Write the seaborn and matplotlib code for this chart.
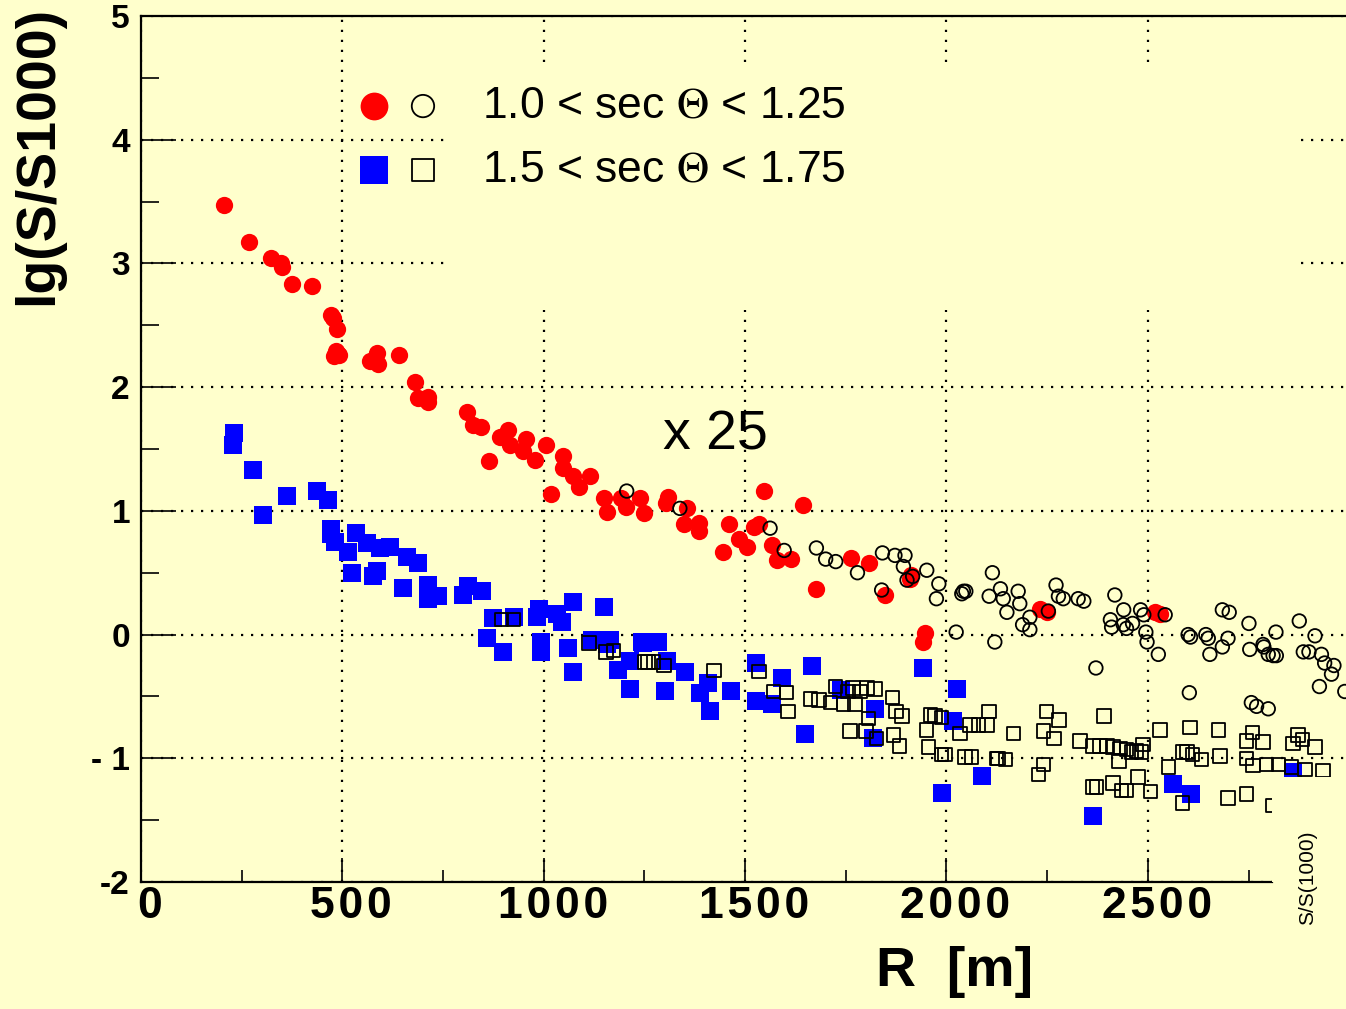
import numpy as np
import pandas as pd
import matplotlib
matplotlib.use("Agg")
import matplotlib.pyplot as plt
from matplotlib.patches import Rectangle
from matplotlib.transforms import ScaledTranslation
from matplotlib.ticker import MultipleLocator, FixedLocator
import seaborn as sns

BG = "#FFFFCC"
sns.set_style("ticks")
plt.rcParams["font.family"] = ["Liberation Sans", "DejaVu Sans"]
plt.rcParams["mathtext.fontset"] = "stix"
for key in ["text.color", "axes.labelcolor", "xtick.color", "ytick.color", "axes.edgecolor"]:
    plt.rcParams[key] = "black"

# 1.0 < sec(theta) < 1.25, scaled by 25 : filled = selected, open = others
r_vert_fill = [207, 268, 324, 348, 349, 376, 425, 471, 477, 486, 484, 492, 489, 480,
               568, 585, 589, 641, 680, 689, 713, 713, 810, 825, 843, 864, 891, 912,
               916, 957, 949, 978, 1005, 1017, 1049, 1049, 1073, 1088, 1116, 1149,
               1158, 1193, 1204, 1239, 1249, 1309, 1303, 1355, 1348, 1386, 1386, 1444,
               1461, 1485, 1505, 1522, 1535, 1547, 1566, 1578, 1615, 1643, 1677, 1763,
               1808, 1847, 1913, 1909, 1946, 1942, 2232, 2249, 2517, 2530]
lg_vert_fill = [3.47, 3.17, 3.04, 3.00, 2.97, 2.83, 2.82, 2.58, 2.56, 2.47, 2.29, 2.26, 2.27, 2.25,
                2.21, 2.28, 2.19, 2.26, 2.04, 1.91, 1.92, 1.88, 1.80, 1.69, 1.68, 1.40, 1.60, 1.65,
                1.53, 1.58, 1.48, 1.41, 1.53, 1.14, 1.44, 1.35, 1.28, 1.19, 1.28, 1.10,
                0.99, 1.10, 1.03, 1.10, 0.98, 1.11, 1.06, 1.02, 0.89, 0.90, 0.84, 0.67,
                0.89, 0.77, 0.71, 0.87, 0.89, 1.16, 0.72, 0.60, 0.61, 1.05, 0.37, 0.62,
                0.58, 0.32, 0.48, 0.45, 0.01, -0.06, 0.21, 0.18, 0.18, 0.17]

r_vert_open = [1206, 1338, 1562, 1597, 1677, 1700, 1725, 1779, 1841, 1872, 1897, 1893, 1902,
               1916, 1951, 1981, 1975, 1839, 2024, 2042, 2048, 2038, 2114, 2106, 2134, 2141,
               2178, 2182, 2150, 2207, 2189, 2207, 2120, 2272, 2278, 2290, 2253, 2327, 2341,
               2418, 2440, 2407, 2410, 2439, 2447, 2462, 2482, 2490, 2495, 2498, 2526, 2371,
               2543, 2600, 2606, 2644, 2650, 2654, 2685, 2699, 2685, 2702, 2751, 2753, 2788,
               2799, 2811, 2818, 2603, 2757, 2770, 2799, 2876, 2915, 2786, 2819, 2886, 2900,
               2931, 2939, 2956, 2962, 2926, 2989]
lg_vert_open = [1.16, 1.02, 0.86, 0.68, 0.70, 0.61, 0.59, 0.50, 0.66, 0.64, 0.64, 0.55, 0.44,
                0.47, 0.52, 0.41, 0.29, 0.36, 0.02, 0.35, 0.35, 0.33, 0.50, 0.31, 0.37, 0.29,
                0.35, 0.25, 0.18, 0.14, 0.08, 0.04, -0.06, 0.40, 0.31, 0.29, 0.19, 0.29, 0.27,
                0.32, 0.20, 0.12, 0.06, 0.08, 0.05, 0.09, 0.20, 0.16, 0.02, -0.06, -0.16, -0.27,
                0.16, 0.00, -0.02, 0.00, -0.03, -0.16, -0.10, -0.03, 0.20, 0.18, 0.09, -0.12, -0.10,
                -0.16, -0.17, 0.02, -0.47, -0.55, -0.58, -0.60, 0.11, -0.01, -0.08, -0.17, -0.14, -0.14,
                -0.16, -0.23, -0.32, -0.25, -0.42, -0.46]

# 1.5 < sec(theta) < 1.75
r_incl_fill = [231, 229, 277, 362, 436, 465, 302, 473, 471, 482, 535, 515, 560, 594, 618, 660,
               689, 525, 575, 585, 651, 713, 738, 713, 800, 813, 846, 875, 925, 987, 983, 1073,
               1149, 1045, 1032, 858, 900, 992, 992, 1061, 1073, 1214, 1185, 1214, 1247, 1119,
               1156, 1164, 1243, 1284, 1305, 1301, 1350, 1388, 1413, 1409, 1466, 1528, 1527,
               1566, 1591, 1665, 1648, 1739, 1822, 1817, 1941, 2025, 2016, 2087, 1988, 2363,
               2563, 2607, 2860]
lg_incl_fill = [1.63, 1.53, 1.33, 1.12, 1.16, 1.09, 0.97, 0.85, 0.81, 0.75, 0.82, 0.67, 0.74, 0.70, 0.71, 0.63,
                0.58, 0.50, 0.47, 0.51, 0.38, 0.40, 0.31, 0.29, 0.32, 0.39, 0.35, 0.13, 0.14, 0.21, 0.14, 0.26,
                0.22, 0.10, 0.17, -0.03, -0.14, -0.14, -0.06, -0.11, -0.30, -0.44, -0.29, -0.21, -0.07, -0.04,
                -0.08, -0.04, -0.06, -0.06, -0.21, -0.46, -0.30, -0.47, -0.62, -0.39, -0.46, -0.23, -0.54,
                -0.56, -0.35, -0.25, -0.80, -0.45, -0.60, -0.84, -0.27, -0.44, -0.70, -1.14, -1.28, -1.47,
                -1.21, -1.29, -1.11]

r_incl_open = [895, 925, 1113, 1155, 1173, 1251, 1259, 1272, 1299, 1423, 1535, 1570, 1603, 1607,
               1662, 1684, 1712, 1744, 1773, 1725, 1768, 1785, 1802, 1822, 1756, 1806, 1760, 1800,
               1826, 1866, 1875, 1889, 1868, 1883, 1960, 1971, 1988, 1950, 1955, 1988, 1996, 2033,
               2058, 2079, 2100, 2106, 2046, 2062, 2124, 2128, 2147, 2166, 2241, 2228, 2248, 2280,
               2241, 2267, 2331, 2364, 2381, 2398, 2414, 2431, 2447, 2459, 2472, 2484, 2488, 2429,
               2391, 2363, 2372, 2414, 2434, 2447, 2476, 2507, 2530, 2551, 2586, 2597, 2611, 2633,
               2604, 2586, 2675, 2679, 2745, 2761, 2795, 2824, 2857, 2745, 2760, 2786, 2861, 2873,
               2699, 2745, 2810, 2884, 2915, 2890, 2935]
lg_incl_open = [0.12, 0.12, -0.07, -0.14, -0.13, -0.22, -0.22, -0.22, -0.25, -0.29, -0.30, -0.46, -0.47, -0.62,
                -0.52, -0.53, -0.55, -0.56, -0.56, -0.42, -0.43, -0.46, -0.43, -0.44, -0.46, -0.68, -0.78, -0.78,
                -0.84, -0.51, -0.62, -0.66, -0.81, -0.90, -0.65, -0.66, -0.67, -0.77, -0.91, -0.97, -0.97, -0.80,
                -0.73, -0.73, -0.73, -0.62, -0.99, -0.99, -1.00, -1.00, -1.01, -0.80, -1.05, -1.13, -0.62, -0.69,
                -0.78, -0.84, -0.86, -0.90, -0.90, -0.90, -0.91, -0.92, -0.93, -0.95, -0.94, -0.95, -0.89, -1.02,
                -0.66, -1.23, -1.23, -1.20, -1.26, -1.26, -1.15, -1.27, -0.77, -1.07, -0.95, -0.95, -0.97, -1.01,
                -0.75, -1.36, -0.77, -0.98, -1.00, -1.06, -1.05, -1.05, -1.07, -0.86, -0.79, -0.87, -0.88, -0.81,
                -1.32, -1.29, -1.38, -0.85, -0.91, -1.09, -1.10]

legend_labels = ["1.0 < sec $\\Theta$ < 1.25", "1.5 < sec $\\Theta$ < 1.75"]
x_ticks = [0, 500, 1000, 1500, 2000, 2500]
y_ticks = [-2, -1, 0, 1, 2, 3, 4, 5]
y_tick_labels = ["-2", "- 1", "0", "1", "2", "3", "4", "5"]

HS = "\u200a"
x_tick_labels = [HS.join(str(v)) for v in x_ticks]

fig = plt.figure(figsize=(13.46, 10.09), dpi=100, facecolor=BG)
ax = fig.add_axes([141 / 1346, 127 / 1009, 1 - 141 / 1346, 866 / 1009])
ax.set_facecolor(BG)
ax.set_xlim(0, 2992)
ax.set_ylim(-2, 5)

# dotted grid, hidden behind the legend pad
ax.set_axisbelow(True)
ax.grid(True, which="major", color="black", linestyle=(0, (1, 3.5)), linewidth=1.6)
ax.add_patch(Rectangle((760, 2.62), 2877 - 760, 4.6 - 2.62, facecolor=BG,
                       edgecolor="none", zorder=0.8))

series = [
    (r_vert_fill, lg_vert_fill, "o", "#FF0000", "#FF0000", 155, 0),
    (r_incl_fill, lg_incl_fill, "s", "#0000FF", "#0000FF", 155, 0),
    (r_vert_open, lg_vert_open, "o", "none", "black", 95, 1.3),
    (r_incl_open, lg_incl_open, "s", "none", "black", 95, 1.3),
]
for i, (xs, ys, mk, fc, ec, size, lw) in enumerate(series):
    df = pd.DataFrame({"R": xs, "lgS": ys})
    sns.scatterplot(data=df, x="R", y="lgS", ax=ax, marker=mk, s=size,
                    facecolor=fc, edgecolor=ec, linewidth=lw, legend=False,
                    zorder=3 + i)

# pad in the lower right corner
ax.add_patch(Rectangle((2808, -2.2), 400, 2.2 - 1.15, facecolor=BG,
                       edgecolor="none", zorder=10))

# axes frame
ax.spines["right"].set_visible(False)
for s in ["left", "bottom", "top"]:
    ax.spines[s].set_linewidth(1.6)
    ax.spines[s].set_color("black")
ax.spines["bottom"].set_bounds(0, 2808)

ax.set_xticks(x_ticks)
ax.set_xticklabels(x_tick_labels, fontsize=32, fontweight="bold")
ax.xaxis.set_minor_locator(FixedLocator([250, 750, 1250, 1750, 2250, 2750]))
ax.set_yticks(y_ticks)
ax.set_yticklabels(y_tick_labels, fontsize=24, fontweight="bold")
ax.yaxis.set_minor_locator(MultipleLocator(0.5))
ax.tick_params(axis="x", which="major", direction="in", length=17, width=1.2, pad=3,
               colors="black")
ax.tick_params(axis="x", which="minor", direction="in", length=9, width=1.2, colors="black")
ax.tick_params(axis="y", which="major", direction="in", length=25, width=1.2, pad=8,
               colors="black")
ax.tick_params(axis="y", which="minor", direction="in", length=13, width=1.2, colors="black")
ax.set_xlabel("")
ax.set_ylabel("")
shift = ScaledTranslation(9 / 100, 0, fig.dpi_scale_trans)
for lab in ax.get_xticklabels():
    lab.set_transform(lab.get_transform() + shift)

# legend
leg_rows = [(0.896, "o", "#FF0000"), (0.822, "s", "#0000FF")]
for (yy, mk, col), text in zip(leg_rows, legend_labels):
    ax.scatter([0.1934], [yy], transform=ax.transAxes, marker=mk, s=400,
               color=col, linewidths=0, zorder=6, clip_on=False)
    ax.scatter([0.234], [yy], transform=ax.transAxes, marker=mk, s=260,
               facecolor="none", edgecolor="black", linewidths=1.3, zorder=6, clip_on=False)
    ax.text(0.283, yy, text, transform=ax.transAxes, fontsize=32, va="center", ha="left",
            color="black")

fig.text(715 / 1346, 1 - 435 / 1009, "x 25", fontsize=40, ha="center", va="center",
         color="black")
fig.text(38 / 1346, 1 - 155 / 1009, "lg(S/S1000)", fontsize=40, fontweight="bold",
         rotation=90, ha="center", va="center", color="black")
fig.text(955 / 1346, 1 - 972 / 1009, "R  [m]", fontsize=40, fontweight="bold",
         ha="center", va="center", color="black")
fig.text(1308 / 1346, 1 - 878 / 1009, "S/S(1000)", fontsize=15, rotation=90,
         ha="center", va="center", color="black")

fig.savefig("out.png", dpi=100, facecolor=BG)
